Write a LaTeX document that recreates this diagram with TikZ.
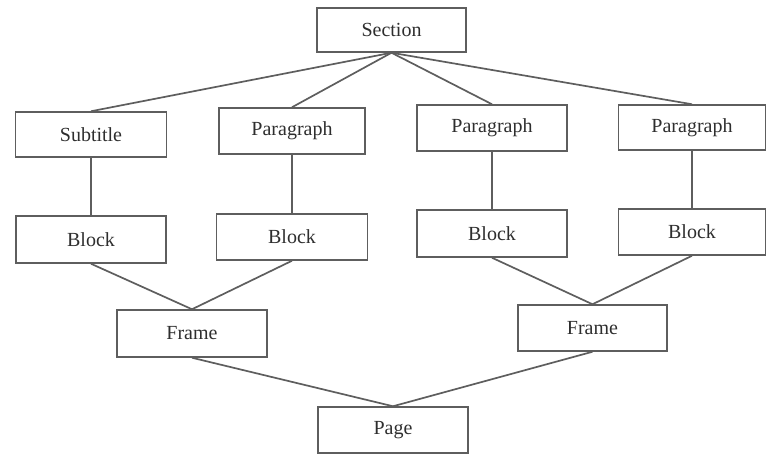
\documentclass[tikz,border=0pt]{standalone}
\usepackage{fontspec}
\setmainfont{Liberation Serif}
\definecolor{edge}{HTML}{5E5E5E}
\definecolor{ink}{HTML}{2E2E2E}
\begin{document}
\begin{tikzpicture}[x=1pt,y=-1pt,
  box/.style={draw=edge,line width=1.5pt,rectangle,inner sep=0pt,
    minimum height=46pt,text=ink,font=\fontsize{20}{22}\selectfont},
  link/.style={draw=edge,line width=1.7pt}]
\useasboundingbox (0,0) rectangle (766,455);
% top level
\node[box,minimum width=149pt,minimum height=44pt] (sec) at (391.5,30) {Section};
% second row
\node[box,minimum width=151pt,minimum height=45pt] (sub) at (91,134.5) {Subtitle};
\node[box,minimum width=146pt] (p1) at (292,131) {Paragraph};
\node[box,minimum width=150pt] (p2) at (492,128) {Paragraph};
\node[box,minimum width=147pt,minimum height=45pt] (p3) at (692,127.5) {Paragraph};
% blocks
\node[box,minimum width=150pt,minimum height=47pt] (b1) at (91,239.5) {Block};
\node[box,minimum width=151pt] (b2) at (292,237) {Block};
\node[box,minimum width=150pt,minimum height=47pt] (b3) at (492,233.5) {Block};
\node[box,minimum width=147pt] (b4) at (692,232) {Block};
% frames and page
\node[box,minimum width=150pt,minimum height=47pt] (f1) at (192,333.5) {Frame};
\node[box,minimum width=149pt] (f2) at (592.5,328) {Frame};
\node[box,minimum width=150pt] (pg) at (393,430) {Page};
% connectors
\foreach \n in {sub,p1,p2,p3} \draw[link] (sec.south) -- (\n.north);
\draw[link] (sub.south) -- (b1.north);
\draw[link] (p1.south) -- (b2.north);
\draw[link] (p2.south) -- (b3.north);
\draw[link] (p3.south) -- (b4.north);
\draw[link] (b1.south) -- (f1.north);
\draw[link] (b2.south) -- (f1.north);
\draw[link] (b3.south) -- (f2.north);
\draw[link] (b4.south) -- (f2.north);
\draw[link] (f1.south) -- (pg.north);
\draw[link] (f2.south) -- (pg.north);
\end{tikzpicture}
\end{document}
